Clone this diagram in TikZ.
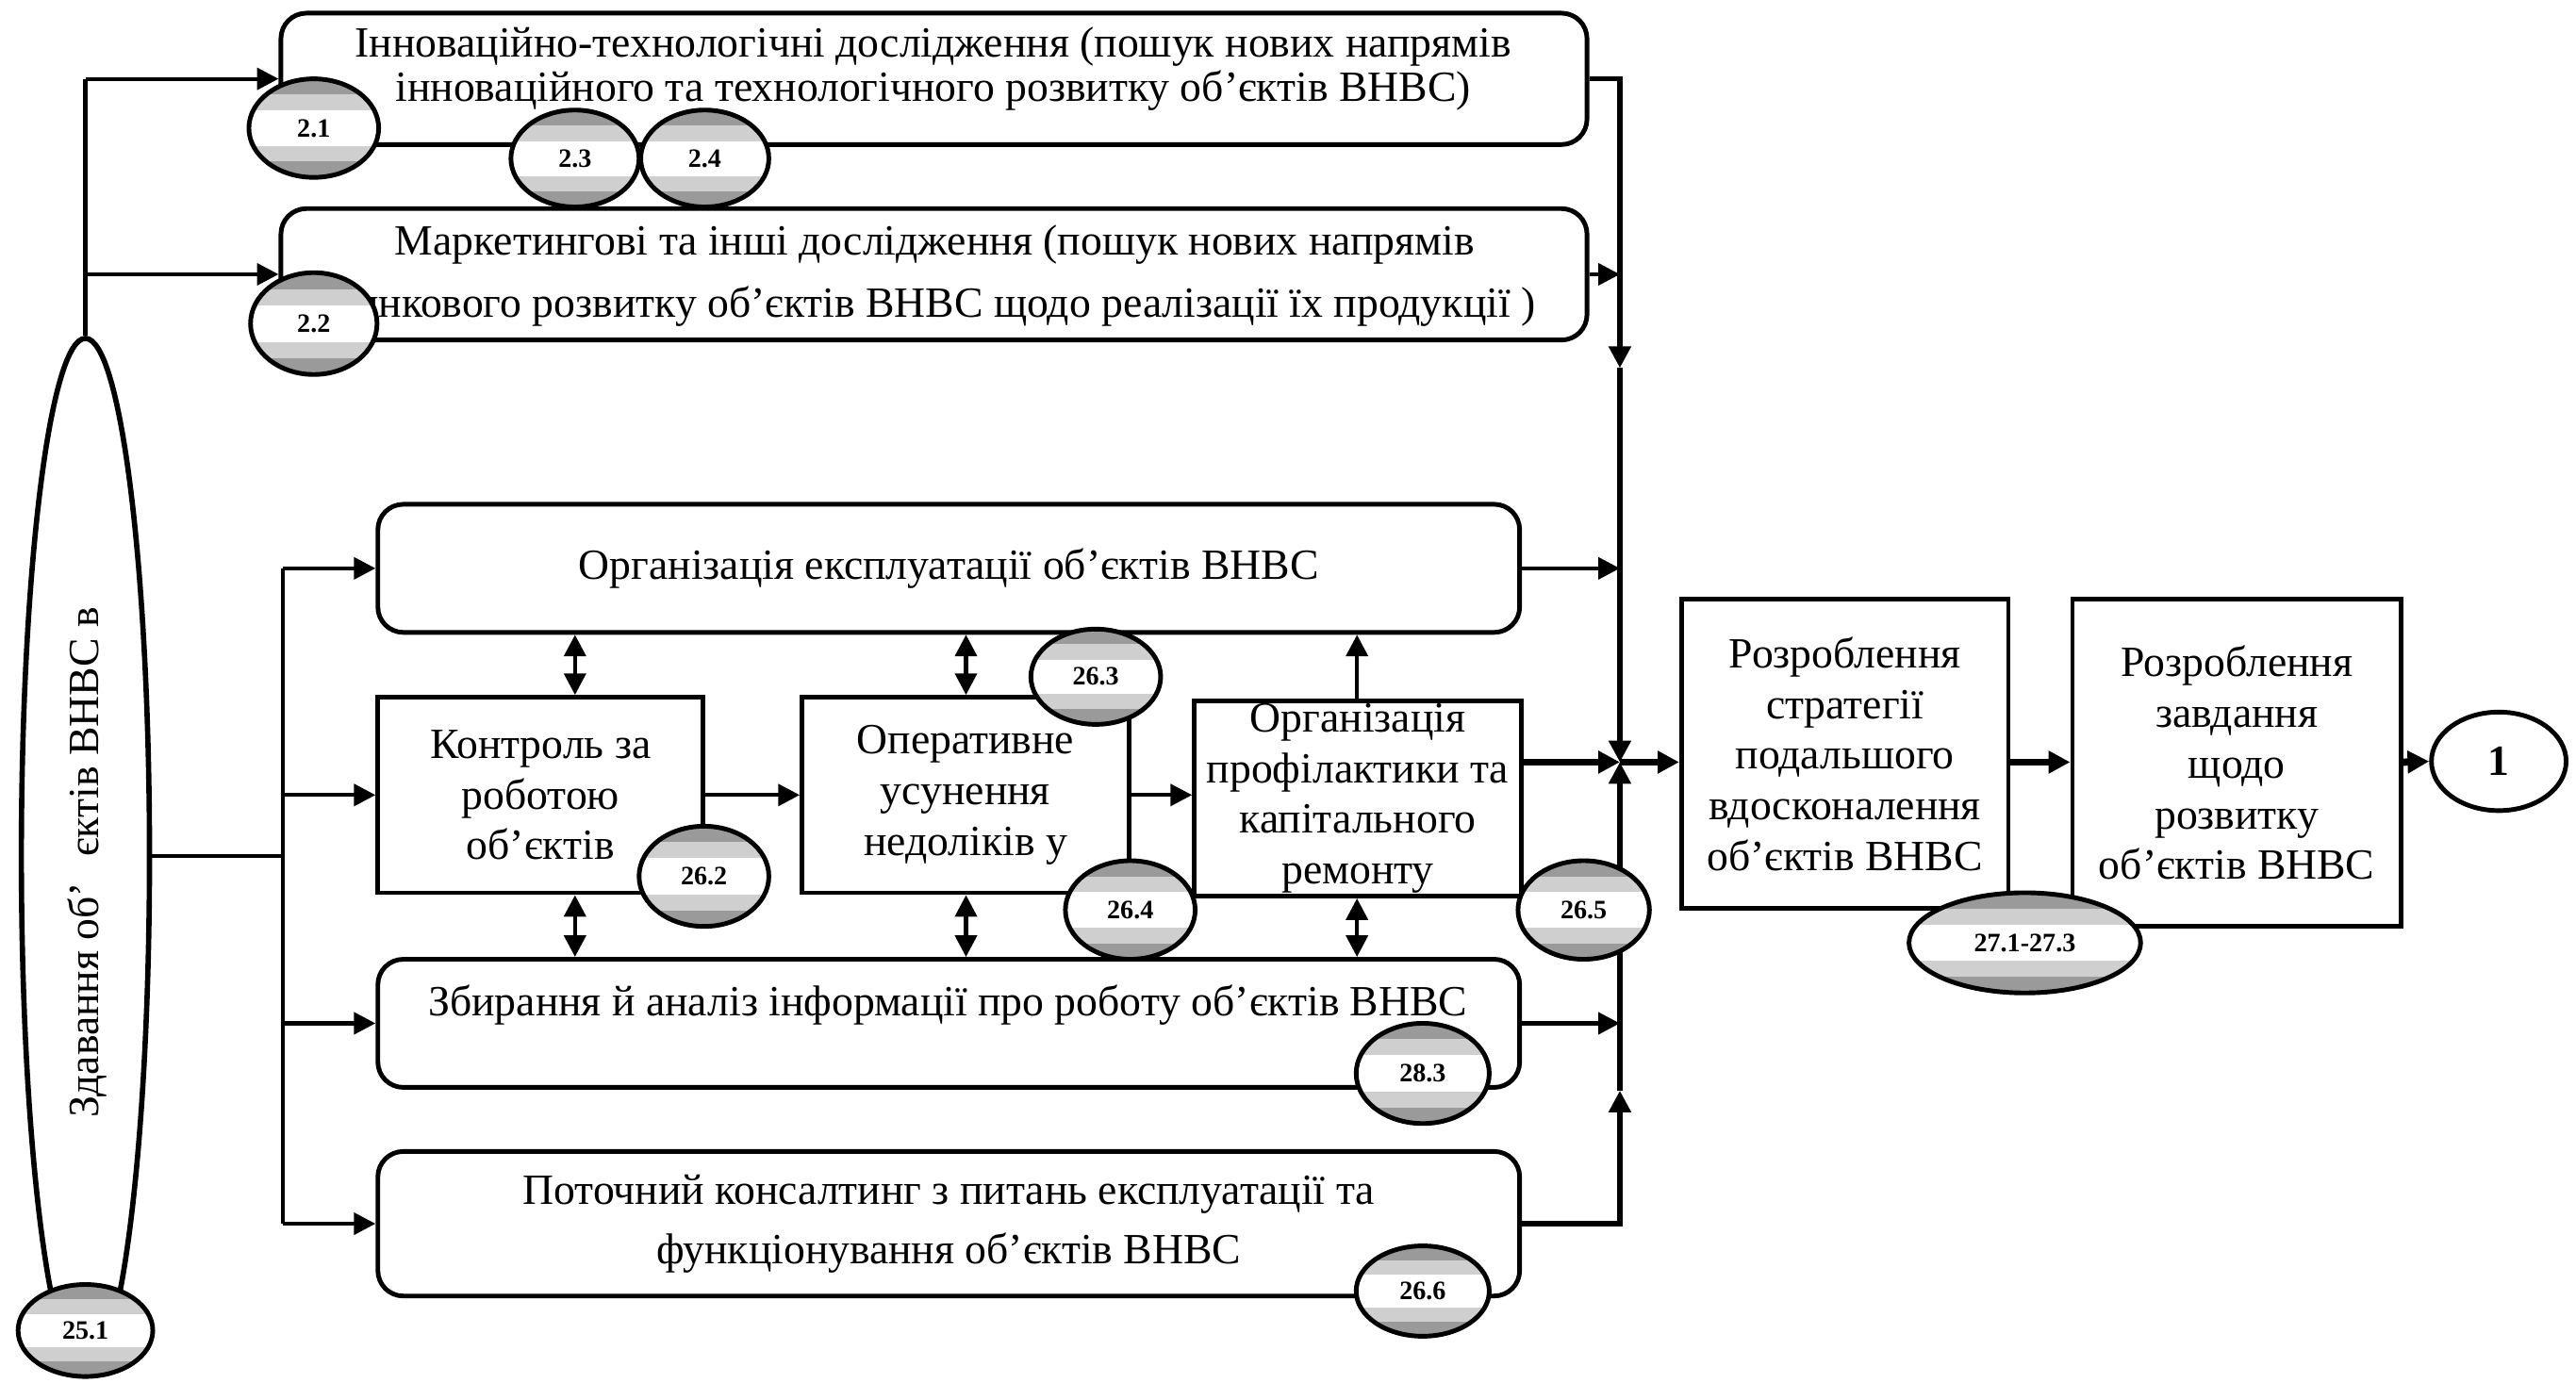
\documentclass[tikz,border=0pt]{standalone}
\usepackage{fontspec}
\setmainfont{Liberation Serif}
\usetikzlibrary{shapes.geometric,arrows.meta,calc}
\definecolor{bdk}{HTML}{9A9A9A}
\definecolor{blt}{HTML}{CFCFCF}
\def\unitpx{0.017423cm}
\tikzset{
  rbox/.style={draw, line width=1.4pt, rounded corners=0.27cm, inner sep=0pt},
  sbox/.style={draw, line width=1.4pt, inner sep=0pt},
  txt/.style={align=center, font=\fontsize{13}{15.3}\selectfont, inner sep=0pt},
  ln/.style={line width=1.2pt},
  arr/.style={line width=1.2pt, -{Triangle[length=6.5pt,width=6.5pt]}},
  busarr/.style={line width=1.5pt, -{Triangle[length=6.5pt,width=6.5pt]}},
  tarr/.style={line width=2.2pt, -{Triangle[length=6.5pt,width=6.5pt]}},
  darr/.style={line width=1.2pt, {Triangle[length=6.5pt,width=6.5pt]}-{Triangle[length=6.5pt,width=6.5pt]}},
  badge/.style={ellipse, draw, line width=1.4pt, inner sep=0pt, fill=white,
    font=\bfseries\fontsize{8}{9}\selectfont,
    path picture={
      \fill[bdk] (path picture bounding box.north west) rectangle ($(path picture bounding box.north east)!0.16!(path picture bounding box.south east)$);
      \fill[blt] ($(path picture bounding box.north west)!0.16!(path picture bounding box.south west)$) rectangle ($(path picture bounding box.north east)!0.32!(path picture bounding box.south east)$);
      \fill[blt] ($(path picture bounding box.north west)!0.68!(path picture bounding box.south west)$) rectangle ($(path picture bounding box.north east)!0.84!(path picture bounding box.south east)$);
      \fill[bdk] ($(path picture bounding box.north west)!0.84!(path picture bounding box.south west)$) rectangle (path picture bounding box.south east);
    }},
}
\begin{document}
\begin{tikzpicture}[x=\unitpx, y=-\unitpx]
\useasboundingbox[fill=white] (0,0) rectangle (1568,841.4);

% boxes
\node[rbox, minimum width=795*\unitpx, minimum height=80*\unitpx] (ib) at (568.5,48) {};
\node[txt] (ibt) at (568,42) {Інноваційно-технологічні дослідження (пошук нових напрямів\\[-1.9pt]інноваційного та технологічного розвитку об’єктів ВНВС)};
\node[rbox, minimum width=795*\unitpx, minimum height=80*\unitpx] (mb) at (568.5,167) {};
\node[txt] (mbt) at (569,168) {Маркетингові та інші дослідження (пошук нових напрямів\\[3.5pt]ринкового розвитку об’єктів ВНВС щодо реалізації їх продукції )};

\node[rbox, txt, minimum width=695*\unitpx, minimum height=78*\unitpx] (oe) at (577.5,346) {Організація експлуатації об’єктів ВНВС};
\node[sbox, txt, minimum width=198*\unitpx, minimum height=119*\unitpx] (kr) at (329,484) {Контроль за\\роботою\\об’єктів};
\node[sbox, txt, minimum width=199*\unitpx, minimum height=119*\unitpx] (op) at (587.7,484) {Оперативне\\усунення\\недоліків у};
\node[sbox, txt, minimum width=199*\unitpx, minimum height=119*\unitpx] (pf) at (826.5,486) {Організація\\профілактики та\\капітального\\ремонту};
\node[rbox, minimum width=695*\unitpx, minimum height=78*\unitpx] (zb) at (577.5,623) {};
\node[txt] (zbt) at (577,612) {Збирання й аналіз інформації про роботу об’єктів ВНВС};
\node[rbox, txt, minimum width=695*\unitpx, minimum height=88*\unitpx] (pk) at (577.5,745) {Поточний консалтинг з питань експлуатації та\\[2.5pt]функціонування об’єктів ВНВС};

\node[sbox, txt, minimum width=199*\unitpx, minimum height=188*\unitpx] (sb) at (1123,459) {Розроблення\\стратегії\\подальшого\\вдосконалення\\об’єктів ВНВС};
\node[sbox, txt, minimum width=200*\unitpx, minimum height=199*\unitpx] (zv) at (1361.5,464.5) {Розроблення\\завдання\\щодо\\розвитку\\об’єктів ВНВС};
\node[ellipse, draw, line width=1.4pt, inner sep=0pt, minimum width=82*\unitpx, minimum height=60*\unitpx, font=\bfseries\fontsize{13}{15}\selectfont] (one) at (1521,463.5) {1};

\node[ellipse, draw, line width=1.6pt, inner sep=0pt, minimum width=78*\unitpx, minimum height=630*\unitpx] (big) at (52,521) {};
\node[txt, rotate=90] (bigt) at (53,525) {Здавання об’\hspace{0.6em}єктів ВНВС в};

% coordinates
\coordinate (lt1) at (52,48);
\coordinate (lt2) at (52,167);
\coordinate (lv1) at (172,346);
\coordinate (lv4) at (172,745);
\coordinate (j) at (986,464);
\coordinate (bt) at (986,48);
\coordinate (bm) at (986,224);
\coordinate (bb) at (986,745);
\coordinate (bu) at (986,664);
\coordinate (ca) at (350,0);
\coordinate (cb) at (588,0);
\coordinate (cc) at (826,0);

% left connectors
\draw[ln] (big.north) -- (lt1);
\draw[arr] (lt1) -- (ib.west);
\draw[arr] (lt2) -- (mb.west);
\draw[ln] (big.east) -- (big.east -| lv1);
\draw[ln] (lv1) -- (lv4);
\draw[arr] (lv1) -- (oe.west);
\draw[arr] (kr.west -| lv1) -- (kr.west);
\draw[arr] (zb.west -| lv1) -- (zb.west);
\draw[arr] (lv4) -- (pk.west);

% middle connectors
\draw[arr] (kr.east) -- (op.west);
\draw[arr] (op.east |- kr.east) -- (pf.west |- kr.east);
\draw[darr] (ca |- oe.south) -- (ca |- kr.north);
\draw[darr] (cb |- oe.south) -- (cb |- op.north);
\draw[arr] (cc |- pf.north) -- (cc |- oe.south);
\draw[darr] (ca |- kr.south) -- (ca |- zb.north);
\draw[darr] (cb |- op.south) -- (cb |- zb.north);
\draw[darr] (cc |- pf.south) -- (cc |- zb.north);

% right bus
\draw[busarr] (ib.east) -- (bt) -- (bm);
\draw[busarr] (bm) -- (j);
\draw[arr] (mb.east) -- (mb.east -| j);
\draw[arr] (oe.east) -- (oe.east -| j);
\draw[tarr] (pf.east |- j) -- (j);
\draw[arr] (zb.east) -- (zb.east -| j);
\draw[busarr] (pk.east |- bb) -- (bb) -- (bu);
\draw[busarr] (bu) -- (j);
\draw[tarr] (j) -- (j -| sb.west);
\draw[tarr] (sb.east |- j) -- (zv.west |- j);
\draw[tarr] (zv.east |- j) -- (one.west);

% badges
\node[badge, minimum width=79*\unitpx, minimum height=60*\unitpx] (b21) at (191,78) {2.1};
\node[badge, minimum width=78*\unitpx, minimum height=59*\unitpx] (b23) at (350,96.5) {2.3};
\node[badge, minimum width=78*\unitpx, minimum height=59*\unitpx] (b24) at (429,96.5) {2.4};
\node[badge, minimum width=77*\unitpx, minimum height=62*\unitpx] (b22) at (191,197) {2.2};
\node[badge, minimum width=79*\unitpx, minimum height=61*\unitpx] (b262) at (428.5,533.5) {26.2};
\node[badge, minimum width=79*\unitpx, minimum height=58*\unitpx] (b263) at (667,412) {26.3};
\node[badge, minimum width=79*\unitpx, minimum height=60*\unitpx] (b264) at (688,554) {26.4};
\node[badge, minimum width=80*\unitpx, minimum height=60*\unitpx] (b265) at (964,554) {26.5};
\node[badge, minimum width=81*\unitpx, minimum height=61*\unitpx] (b283) at (866,653.5) {28.3};
\node[badge, minimum width=81*\unitpx, minimum height=55*\unitpx] (b266) at (866,786) {26.6};
\node[badge, minimum width=82*\unitpx, minimum height=56*\unitpx] (b251) at (52,810) {25.1};
\node[badge, minimum width=141*\unitpx, minimum height=61*\unitpx] (b27) at (1232.5,574) {27.1-27.3};
\end{tikzpicture}
\end{document}
